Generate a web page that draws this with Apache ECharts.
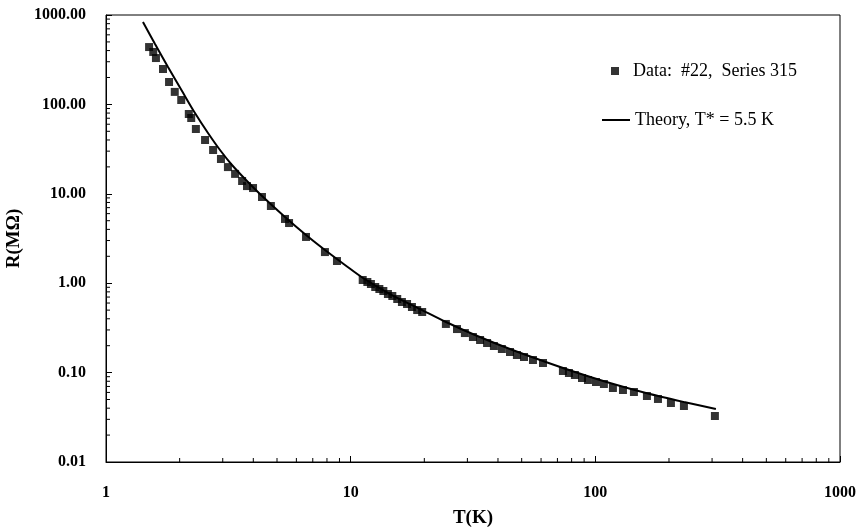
<!DOCTYPE html>
<html>
<head>
<meta charset="utf-8">
<script src="https://cdn.jsdelivr.net/npm/echarts@6/dist/echarts.min.js"></script>
<style>
html, body { margin: 0; padding: 0; background: #fff; }
#main { width: 865px; height: 529px; }
</style>
</head>
<body>
<div id="main"></div>
<script>
// measured data points, T in K, R in MOhm
var dataT = [1.50, 1.56, 1.60, 1.71, 1.81, 1.91, 2.03, 2.18, 2.23, 2.33, 2.54, 2.74, 2.95, 3.15, 3.37, 3.60, 3.77, 3.99, 4.34, 4.72, 5.39, 5.60, 6.57, 7.85, 8.79,
  11.2, 11.7, 12.1, 12.6, 13.1, 13.6, 14.2, 14.8, 15.5, 16.2, 17.0, 17.8, 18.7, 19.6,
  24.5, 27.2, 29.3, 31.6, 33.8, 36.1, 38.5, 41.5, 44.8, 47.8, 51.1, 55.6, 61.1,
  73.7, 78.0, 82.5, 88.2, 93.3, 100.6, 108.4, 118.0, 129.7, 143.8, 162.5, 180.3, 203.7, 230.2, 308.1];
var dataR = [438, 386, 330, 249, 178, 138, 112, 78.1, 70.4, 53.1, 40.0, 30.9, 24.5, 19.9, 16.7, 13.9, 12.2, 11.6, 9.21, 7.30, 5.23, 4.71, 3.29, 2.23, 1.77,
  1.086, 1.031, 0.980, 0.907, 0.861, 0.818, 0.757, 0.719, 0.666, 0.616, 0.585, 0.542, 0.501, 0.476,
  0.350, 0.307, 0.277, 0.250, 0.2315, 0.2143, 0.1984, 0.1836, 0.1700, 0.1574, 0.1495, 0.1383, 0.1281,
  0.1042, 0.0990, 0.0940, 0.0870, 0.0827, 0.0785, 0.0746, 0.0673, 0.0639, 0.0607, 0.0547, 0.0507, 0.0457, 0.0423, 0.0327];

// theory curve
var theoryT = [1.416, 1.586, 1.792, 2.045, 2.310, 2.611, 2.924, 3.273, 3.734, 4.300, 5.389, 6.568, 7.852, 9.478,
  11.23, 14.47, 19.56, 24.52, 32.21, 44.77, 61.07, 82.54, 114.7, 161.0, 230.2, 311.0];
var theoryR = [835, 474, 262, 141, 80.1, 47.9, 30.9, 21.0, 14.27, 9.70, 5.50, 3.46, 2.35, 1.598,
  1.143, 0.757, 0.501, 0.368, 0.2634, 0.1836, 0.1348, 0.1016, 0.0765, 0.0591, 0.0469, 0.0392];

var dataName = 'Data:  #22,  Series 315';
var theoryName = 'Theory, T* = 5.5 K';

// minor tick positions for the log axes
var xMinor = [2, 3, 4, 5, 6, 7, 8, 9, 20, 30, 40, 50, 60, 70, 80, 90, 200, 300, 400, 500, 600, 700, 800, 900];
var yMinor = [0.02, 0.03, 0.04, 0.05, 0.06, 0.07, 0.08, 0.09, 0.2, 0.3, 0.4, 0.5, 0.6, 0.7, 0.8, 0.9,
  2, 3, 4, 5, 6, 7, 8, 9, 20, 30, 40, 50, 60, 70, 80, 90, 200, 300, 400, 500, 600, 700, 800, 900];

var xMin = 1, xMax = 1000, yMin = 0.01, yMax = 1000;
var serif = 'Liberation Serif';

function pairs(xs, ys) {
  var out = [];
  for (var i = 0; i < xs.length; i++) out.push([xs[i], ys[i]]);
  return out;
}

function minorTicks(values, onX) {
  return {
    type: 'custom',
    silent: true,
    clip: false,
    z: 1,
    data: values.map(function (v) { return onX ? [v, yMin] : [xMin, v]; }),
    renderItem: function (params, api) {
      var p = api.coord([api.value(0), api.value(1)]);
      var shape = onX
        ? { x1: p[0], y1: p[1], x2: p[0], y2: p[1] - 4 }
        : { x1: p[0], y1: p[1], x2: p[0] + 4, y2: p[1] };
      return { type: 'line', shape: shape, style: { stroke: '#000', lineWidth: 1 } };
    }
  };
}

var chart = echarts.init(document.getElementById('main'));
chart.setOption({
  animation: false,
  backgroundColor: '#fff',
  grid: {
    left: 106, right: 25, top: 15, bottom: 67,
    outerBoundsMode: 'none',
    show: true, borderColor: '#000', borderWidth: 1
  },
  legend: [
    {
      data: [{ name: dataName, icon: 'path://M0,0h10v10h-10z' }],
      left: 611, top: 62, padding: 0,
      itemWidth: 26, itemHeight: 8,
      textStyle: { fontFamily: serif, fontSize: 18, color: '#000' }
    },
    {
      data: [{ name: theoryName, icon: 'rect' }],
      left: 602, top: 111, padding: 0,
      itemWidth: 28, itemHeight: 2,
      textStyle: { fontFamily: serif, fontSize: 18, color: '#000' }
    }
  ],
  xAxis: {
    type: 'log', logBase: 10, min: xMin, max: xMax,
    name: 'T(K)', nameLocation: 'middle', nameGap: 47,
    nameTextStyle: { fontFamily: serif, fontWeight: 'bold', fontSize: 19, color: '#000' },
    axisLine: { lineStyle: { color: '#000', width: 1 } },
    axisTick: { inside: true, length: 6, lineStyle: { color: '#000' } },
    splitLine: { show: false },
    axisLabel: {
      margin: 23, fontFamily: serif, fontWeight: 'bold', fontSize: 16, color: '#000',
      formatter: function (v) { return String(Math.round(v)); }
    }
  },
  yAxis: {
    type: 'log', logBase: 10, min: yMin, max: yMax,
    name: 'R(M\u03A9)', nameLocation: 'middle', nameGap: 74, nameRotate: 90,
    nameTextStyle: { fontFamily: serif, fontWeight: 'bold', fontSize: 19, color: '#000' },
    axisLine: { lineStyle: { color: '#000', width: 1 } },
    axisTick: { inside: true, length: 6, lineStyle: { color: '#000' } },
    splitLine: { show: false },
    axisLabel: {
      margin: 20, fontFamily: serif, fontWeight: 'bold', fontSize: 16, color: '#000',
      formatter: function (v) { return v.toFixed(2); }
    }
  },
  series: [
    {
      name: theoryName,
      type: 'line',
      data: pairs(theoryT, theoryR),
      showSymbol: false,
      smooth: 0.3,
      color: '#000',
      lineStyle: { color: '#000', width: 2 },
      z: 2
    },
    {
      name: dataName,
      type: 'scatter',
      data: pairs(dataT, dataR),
      symbol: 'rect',
      symbolSize: 8,
      itemStyle: { color: '#000' },
      z: 3
    },
    minorTicks(xMinor, true),
    minorTicks(yMinor, false)
  ]
});
</script>
</body>
</html>
